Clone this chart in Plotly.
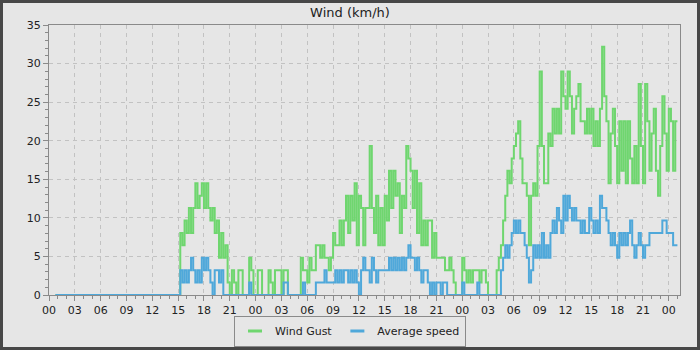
import pandas as pd
import plotly.graph_objects as go

# Values, in whole mph (the station reports mph; chart shows km/h)
MPH_TO_KMH = 1.609344
START = "2024-05-01 00:45"
STEP = "15min"

gust_day1 = [0, 0, 0, 0, 0, 0, 0, 0, 0, 0, 0, 0, 0, 0, 0, 0, 0, 0, 0, 0,
             0, 0, 0, 0, 0, 0, 0, 0, 0, 0, 0, 0, 0, 0, 0, 0, 0, 0, 0, 0,
             0, 0, 0, 0, 0, 0, 0, 0, 0, 0, 0, 0, 0, 0, 0, 0, 0, 0,
             5, 4, 6, 5, 7, 5, 7, 9, 7, 8, 9, 7, 9, 7, 6, 7, 5, 6, 3, 5,
             3, 4, 1, 0, 2, 1, 0, 2, 2, 0, 0, 0, 3, 2, 0]
gust_day2 = [0, 2, 2, 0, 0, 0, 2, 1, 0, 2, 2, 2, 0, 2, 2, 0, 0, 0, 0, 0,
             0, 3, 2, 2, 1, 3, 2, 2, 4, 4, 3, 4, 3, 3, 2, 3, 5, 4, 4, 6,
             4, 6, 8, 5, 8, 6, 9, 4, 8, 7, 4, 7, 7, 12, 7, 5, 8, 4, 7, 4,
             8, 6, 10, 7, 10, 8, 9, 5, 8, 7, 12, 11, 10, 7, 10, 5, 9, 4, 6, 4,
             6, 6, 3, 5, 3, 3, 3, 3, 2, 2, 3, 2, 1, 0, 0, 0]
gust_day3 = [3, 2, 1, 2, 1, 2, 2, 2, 1, 2, 2, 1, 0, 0, 0, 0, 2, 3, 4, 6,
             8, 10, 9, 11, 12, 13, 14, 11, 9, 9, 8, 4, 8, 9, 8, 12, 18, 12, 9, 9,
             13, 12, 15, 13, 15, 13, 18, 16, 15, 18, 16, 13, 15, 16, 17, 14, 14, 13, 15, 13,
             15, 12, 14, 12, 15, 20, 16, 14, 9, 13, 15, 12, 9, 14, 10, 14, 9, 14, 11, 9,
             12, 9, 17, 12, 9, 17, 14, 10, 13, 15, 10, 8, 12, 16, 13, 10]
gust_day4 = [15, 14, 10, 14, 14]

avg_day1 = [0, 0, 0, 0, 0, 0, 0, 0, 0, 0, 0, 0, 0, 0, 0, 0, 0, 0, 0, 0,
            0, 0, 0, 0, 0, 0, 0, 0, 0, 0, 0, 0, 0, 0, 0, 0, 0, 0, 0, 0,
            0, 0, 0, 0, 0, 0, 0, 0, 0, 0, 0, 0, 0, 0, 0, 0, 0, 0,
            2, 1, 2, 1, 2, 3, 2, 1, 2, 1, 3, 2, 3, 2, 1, 0, 2, 2, 1, 2,
            0, 0, 0, 0, 0, 0, 0, 0, 0, 0, 0, 0, 1, 0, 0]
avg_day2 = [0, 0, 0, 0, 0, 0, 0, 0, 0, 0, 0, 0, 0, 1, 1, 0, 0, 0, 0, 0,
            0, 0, 1, 0, 0, 0, 0, 0, 1, 1, 1, 1, 2, 1, 1, 1, 1, 2, 1, 2,
            1, 2, 2, 1, 2, 1, 2, 1, 0, 2, 3, 2, 2, 1, 3, 2, 1, 2, 2, 2,
            2, 2, 3, 2, 3, 2, 3, 2, 3, 2, 3, 4, 3, 3, 2, 3, 2, 1, 2, 2,
            1, 0, 1, 0, 1, 1, 0, 1, 1, 0, 0, 0, 0, 0, 0, 0]
avg_day3 = [1, 0, 0, 0, 0, 0, 0, 1, 0, 0, 0, 0, 0, 0, 0, 0, 0, 0, 2, 3,
            4, 3, 4, 5, 6, 5, 6, 5, 5, 4, 3, 1, 2, 4, 3, 4, 3, 5, 3, 4,
            3, 5, 6, 5, 7, 6, 5, 8, 6, 8, 7, 6, 7, 6, 6, 5, 6, 5, 5, 7,
            6, 5, 6, 5, 8, 7, 7, 6, 5, 4, 5, 4, 3, 5, 4, 5, 4, 5, 6, 4,
            3, 4, 5, 4, 3, 4, 4, 5, 5, 5, 5, 5, 5, 6, 6, 5]
avg_day4 = [5, 5, 4, 4, 4]

SERIES_NAMES = ["Wind Gust", "Average speed"]
COLORS = ["#6fd66f", "#4fa8da"]

gust_mph = gust_day1 + gust_day2 + gust_day3 + gust_day4
avg_mph = avg_day1 + avg_day2 + avg_day3 + avg_day4
times = pd.date_range(START, periods=len(gust_mph), freq=STEP)
gust = [v * MPH_TO_KMH for v in gust_mph]
avg = [v * MPH_TO_KMH for v in avg_mph]

fig = go.Figure()
for name, ys, col in zip(SERIES_NAMES, [gust, avg], COLORS):
    fig.add_trace(go.Scatter(x=times, y=ys, mode="lines", name=name,
                             line=dict(color=col, width=2, shape="hv"),
                             showlegend=False, hoverinfo="skip"))
for name, col in zip(SERIES_NAMES, COLORS):
    fig.add_trace(go.Scatter(x=[None], y=[None], mode="markers", name=name,
                             marker=dict(symbol="line-ew", size=10,
                                         line=dict(color=col, width=3))))

W, H = 700, 350
ML, MR, MT, MB = 49, 20, 25, 55
PW, PH = W - ML - MR, H - MT - MB
BG = "#e6e6e6"
AX = "#8a8a8a"
GRID = "#c2c2c2"

x0 = pd.Timestamp("2024-05-01 00:00")
x1 = x0 + pd.Timedelta(hours=73.3)

fig.update_layout(
    width=W, height=H,
    margin=dict(l=ML, r=MR, t=MT, b=MB, autoexpand=False),
    paper_bgcolor=BG, plot_bgcolor=BG,
    font=dict(family="DejaVu Sans", size=11, color="#222222"),
    title=dict(text="Wind (km/h)", x=0.5, xref="container", xanchor="center",
               y=1 - 12 / H, yref="container", yanchor="middle",
               font=dict(size=13, color="#222222")),
    legend=dict(orientation="h", xref="container", x=0.5, xanchor="center",
                yref="container", y=3.5 / H, yanchor="bottom",
                bgcolor=BG, bordercolor="#8a8a8a", borderwidth=1,
                font=dict(size=11, color="#222222")),
    shapes=[dict(type="rect", xref="paper", yref="paper",
                 x0=(-ML + 1.5) / PW, x1=1 + (MR - 1.5) / PW,
                 y0=(-MB + 1.5) / PH, y1=1 + (MT - 1.5) / PH,
                 line=dict(color="#474747", width=3), fillcolor="rgba(0,0,0,0)")],
)
fig.update_xaxes(
    type="date", range=[x0, x1], tickformat="%H", tick0=x0, dtick=3 * 3600 * 1000,
    ticks="outside", ticklen=5, tickcolor=AX, tickwidth=1,
    showline=True, linecolor=AX, linewidth=1, mirror=True,
    showgrid=True, gridcolor=GRID, gridwidth=1, griddash="4px,4px",
    minor=dict(dtick=3600 * 1000, ticks="outside", ticklen=3, tickcolor=AX, showgrid=False),
    tickfont=dict(size=11, color="#222222"),
)
fig.update_yaxes(
    range=[0, 35], tick0=0, dtick=5,
    ticks="outside", ticklen=5, tickcolor=AX, tickwidth=1,
    showline=True, linecolor=AX, linewidth=1, mirror=True,
    showgrid=True, gridcolor=GRID, gridwidth=1, griddash="4px,4px",
    zeroline=False,
    minor=dict(dtick=1, ticks="outside", ticklen=3, tickcolor=AX, showgrid=False),
    tickfont=dict(size=11, color="#222222"),
)

fig.write_html("out.html")
